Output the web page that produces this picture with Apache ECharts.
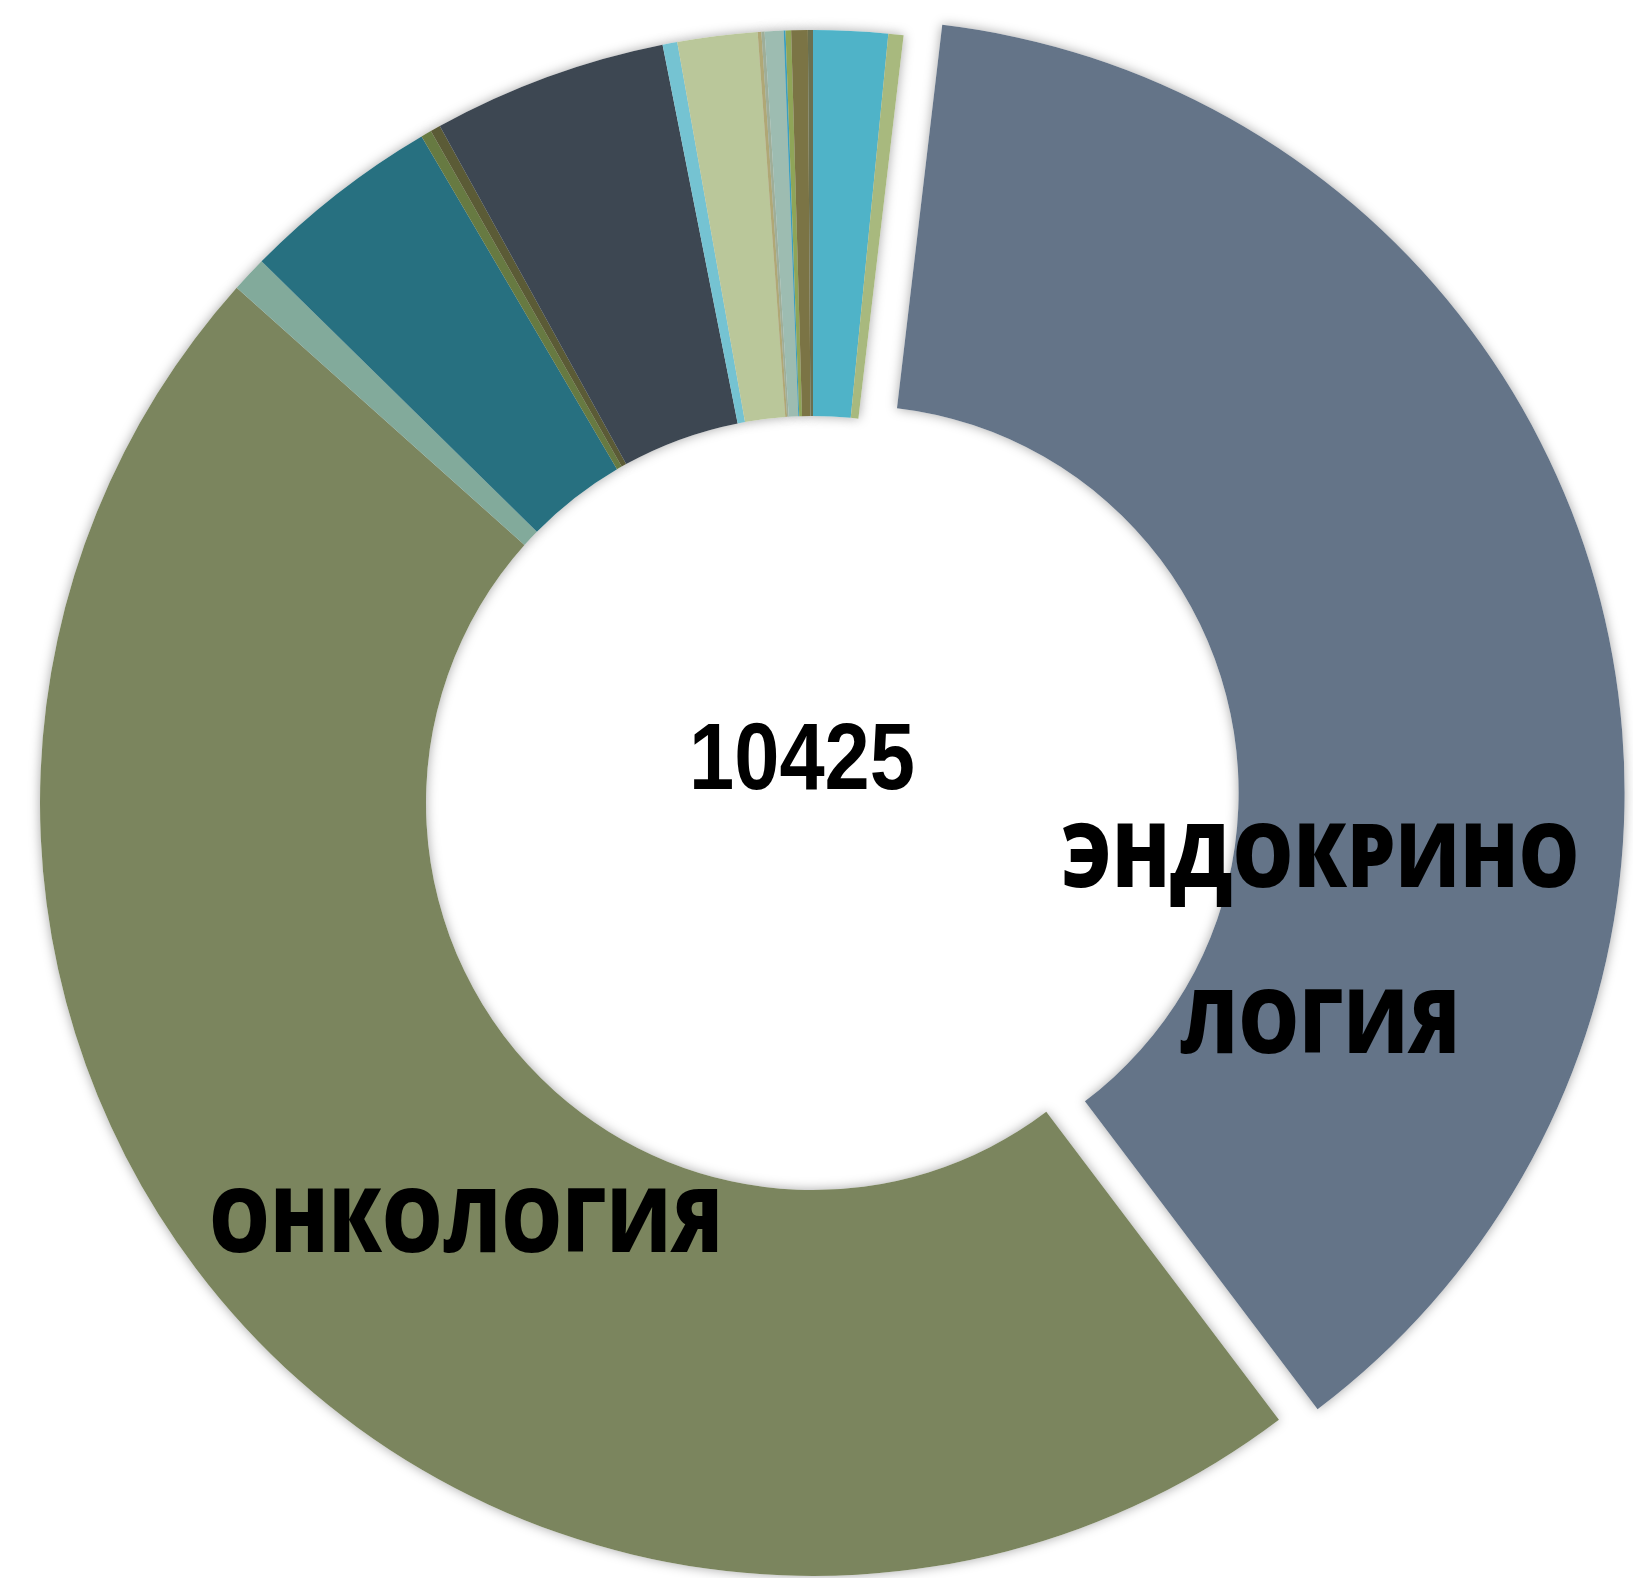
<!DOCTYPE html>
<html>
<head>
    <meta charset="utf-8">
    <title>donut</title>
    <script src="https://cdn.jsdelivr.net/npm/echarts@6/dist/echarts.min.js"></script>
    <style>
        html, body { margin: 0; padding: 0; background: #fff; }
        #chart { width: 1633px; height: 1578px; }
    </style>
</head>
<body>
<div id="chart"></div>
<script>
    // slices, clockwise from 12 o'clock
    var categories = ['Группа 1', 'Группа 2', 'ЭНДОКРИНОЛОГИЯ', 'ОНКОЛОГИЯ', 'Группа 5', 'Группа 6',
        'Группа 7', 'Группа 8', 'Группа 9', 'Группа 10', 'Группа 11', 'Группа 12', 'Группа 13',
        'Группа 14', 'Группа 15', 'Группа 16', 'Группа 17', 'Группа 18'];
    var values = [162, 33, 3944, 4890, 78, 437, 23, 22, 511, 32, 174, 8, 7, 41, 4, 12, 36, 11];
    var colors = ['#4fb3c8', '#a8b97e', '#647488', '#7b855e', '#82aa9b', '#277080', '#677a42', '#5b5b36',
        '#3d4752', '#75c3d2', '#bac79a', '#b0a876', '#9fae98', '#9dbcb1', '#3a9fc0', '#8fa558', '#7b7445', '#6a7050'];
    var explodedName = 'ЭНДОКРИНОЛОГИЯ';
    var labelTexts = ['ЭНДОКРИНО\nЛОГИЯ', 'ОНКОЛОГИЯ'];

    var total = 0;
    for (var i = 0; i < values.length; i++) total += values[i];

    var chart = echarts.init(document.getElementById('chart'));

    function buildData(withColor) {
        var out = [];
        for (var i = 0; i < values.length; i++) {
            out.push({
                name: categories[i],
                value: values[i],
                selected: categories[i] === explodedName,
                itemStyle: { color: withColor ? colors[i] : '#ffffff' }
            });
        }
        return out;
    }

    var base = {
        type: 'pie',
        center: [813, 803],
        radius: [387, 773],
        startAngle: 90,
        clockwise: true,
        selectedMode: 'single',
        selectedOffset: 40,
        avoidLabelOverlap: false,
        label: { show: false },
        labelLine: { show: false },
        emphasis: { disabled: true },
        silent: true
    };

    var labelFont = {
        fill: '#000', fontFamily: 'Open Sans', fontWeight: 800, fontSize: 89,
        align: 'center', verticalAlign: 'middle'
    };

    var option = {
        animation: false,
        backgroundColor: '#ffffff',
        series: [
            // shadow layer underneath
            echarts.util.merge({
                z: 1,
                itemStyle: { borderWidth: 0, shadowBlur: 12, shadowColor: 'rgba(0,0,0,0.35)' },
                data: buildData(false)
            }, base),
            echarts.util.merge({
                z: 2,
                itemStyle: { borderWidth: 0 },
                data: buildData(true)
            }, base)
        ],
        graphic: [
            {
                type: 'text', x: 802, y: 763, scaleX: 0.864, z: 10,
                style: {
                    text: String(total), fill: '#000',
                    fontFamily: 'Liberation Sans', fontWeight: 'bold', fontSize: 94,
                    align: 'center', verticalAlign: 'middle'
                }
            },
            {
                type: 'text', x: 1320, y: 945, scaleX: 0.86, z: 10,
                style: echarts.util.merge({ text: labelTexts[0], lineHeight: 166 }, labelFont)
            },
            {
                type: 'text', x: 466, y: 1227, scaleX: 0.86, z: 10,
                style: echarts.util.merge({ text: labelTexts[1] }, labelFont)
            }
        ]
    };
    chart.setOption(option);
</script>
</body>
</html>
